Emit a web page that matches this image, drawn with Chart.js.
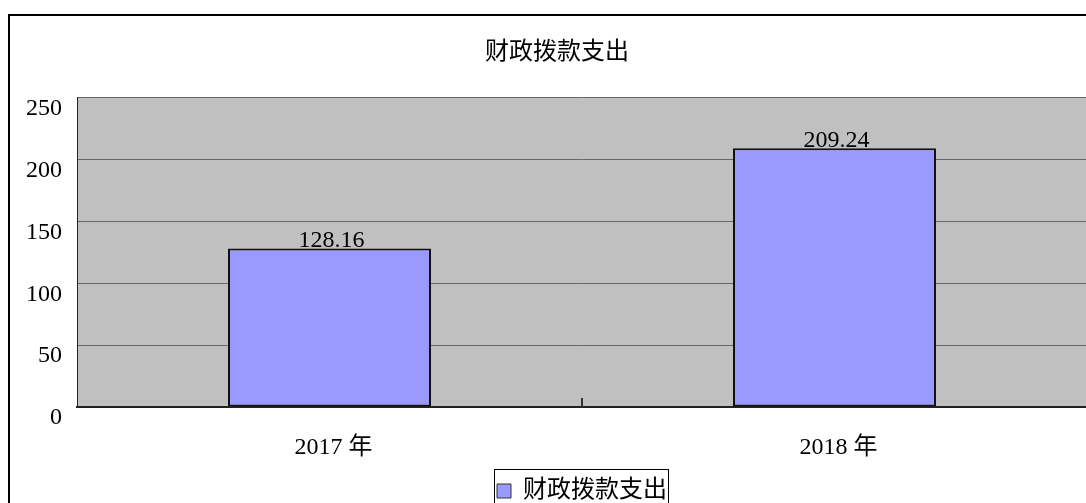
<!DOCTYPE html>
<html><head><meta charset="utf-8">
<script src="https://cdn.jsdelivr.net/npm/chart.js@4"></script>
<style>
html,body{margin:0;padding:0;overflow:hidden;background:#fff;width:1086px;height:503px}
#wrap{position:absolute;left:0;top:0;width:1100px;height:513px}
</style>
</head><body><div id="wrap"><canvas id="c" width="1100" height="513"></canvas></div>
<script>
const chartTitle = '财政拨款支出';
const seriesName = '财政拨款支出';
const categories = ['2017 年', '2018 年'];
const values = [128.16, 209.24];
const valueLabels = ['128.16', '209.24'];
const yTicks = [0, 50, 100, 150, 200, 250];

const FONT = '"Liberation Serif", "Noto Sans CJK SC", serif';

const framePlugin = {
  id: 'frame',
  beforeDraw(chart) {
    const ctx = chart.ctx, a = chart.chartArea;
    ctx.save();
    ctx.fillStyle = '#ffffff';
    ctx.fillRect(0, 0, chart.width, chart.height);
    ctx.fillStyle = '#C0C0C0';
    ctx.fillRect(a.left, a.top, a.right - a.left, a.bottom - a.top);
    ctx.strokeStyle = '#000';
    ctx.lineWidth = 2;
    ctx.strokeRect(9, 15, 2000, 2000);
    ctx.restore();
  },
  afterDatasetsDraw(chart) {
    const ctx = chart.ctx;
    const meta = chart.getDatasetMeta(0);
    ctx.save();
    ctx.font = '24px ' + FONT;
    ctx.fillStyle = '#000';
    ctx.textAlign = 'center';
    ctx.textBaseline = 'alphabetic';
    meta.data.forEach((bar, i) => {
      ctx.fillText(valueLabels[i], bar.x + 2, bar.y - 1);
    });
    ctx.restore();
  },
  afterDraw(chart) {
    const ctx = chart.ctx;
    const xs = chart.scales.x;
    ctx.save();
    const mx = Math.round(xs.getPixelForValue(0.5));
    ctx.strokeStyle = '#333';
    ctx.lineWidth = 2;
    ctx.beginPath();
    ctx.moveTo(mx, xs.top - 9);
    ctx.lineTo(mx, xs.top);
    ctx.stroke();
    const lg = chart.legend;
    if (lg && lg.legendHitBoxes && lg.legendHitBoxes.length) {
      const hb = lg.legendHitBoxes[0];
      ctx.strokeStyle = '#000';
      ctx.lineWidth = 1;
      ctx.strokeRect(Math.round(hb.left - 3) + 0.5, Math.round(lg.top) + 0.5, Math.round(hb.width + 4), 200);
    }
    ctx.restore();
  }
};

new Chart(document.getElementById('c'), {
  type: 'bar',
  data: {
    labels: categories,
    datasets: [{
      label: seriesName,
      data: values,
      backgroundColor: '#9999FF',
      borderColor: '#111',
      borderWidth: 2,
      borderSkipped: false,
      barPercentage: 0.402,
      categoryPercentage: 1.0
    }]
  },
  options: {
    responsive: false,
    animation: false,
    devicePixelRatio: 1,
    layout: { padding: { left: 27, right: 13, top: 0, bottom: 0 } },
    plugins: {
      tooltip: { enabled: false },
      title: {
        display: true,
        text: chartTitle,
        color: '#000',
        font: { family: FONT, size: 24, weight: 'normal' },
        padding: { top: 38, bottom: 31 }
      },
      legend: {
        position: 'bottom',
        fullSize: false,
        align: 'center',
        labels: {
          boxWidth: 14,
          boxHeight: 14,
          padding: 10,
          color: '#000',
          font: { family: FONT, size: 24 },
          generateLabels: (chart) => Chart.defaults.plugins.legend.labels.generateLabels(chart)
            .map(l => Object.assign(l, { lineWidth: 1, strokeStyle: '#333' }))
        }
      }
    },
    scales: {
      x: {
        offset: true,
        afterFit: s => { s.height = 62; },
        border: { display: true, color: '#222', width: 2 },
        grid: { display: false, drawTicks: false },
        ticks: {
          padding: 26, labelOffset: 4, color: '#000',
          font: { family: FONT, size: 24 }, maxRotation: 0, autoSkip: false
        }
      },
      y: {
        min: 0, max: 250,
        afterBuildTicks: s => { s.ticks = yTicks.map(v => ({ value: v })); },
        afterFit: s => { s.width = 50; },
        border: { display: true, color: '#222', width: 1 },
        grid: { color: '#666', lineWidth: 1, drawTicks: false },
        ticks: {
          padding: 15, labelOffset: 11, color: '#000',
          font: { family: FONT, size: 24 }
        }
      }
    }
  },
  plugins: [framePlugin]
});
</script>
</body></html>
